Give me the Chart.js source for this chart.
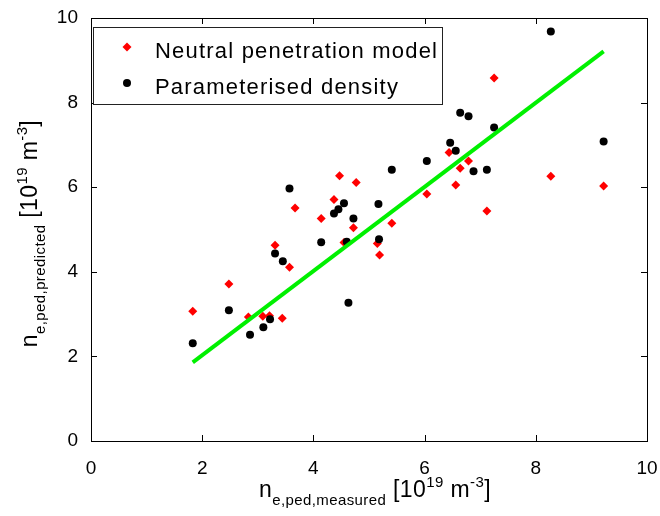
<!DOCTYPE html>
<html><head><meta charset="utf-8">
<script src="https://cdn.jsdelivr.net/npm/chart.js@4.4.0/dist/chart.umd.min.js"></script>
<style>html,body{margin:0;padding:0;background:#fff;}#wrap{position:relative;width:660px;height:516px;}</style>
</head><body><div id="wrap"><canvas id="c" width="660" height="516"></canvas></div>
<script>
// Data
const seriesNames = ['Neutral penetration model', 'Parameterised density'];
const neutralX = [1.83, 2.48, 2.83, 3.09, 3.21, 3.44, 3.31, 3.57, 3.67, 4.14, 4.37, 4.47, 4.77, 4.72, 4.55, 5.15, 5.19, 5.41, 6.04, 6.44, 6.56, 6.64, 6.79, 7.12, 7.25, 8.27, 9.22];
const neutralY = [3.07, 3.71, 2.93, 2.95, 2.96, 2.90, 4.63, 4.11, 5.51, 5.26, 5.71, 6.27, 6.11, 5.04, 4.69, 4.67, 4.40, 5.15, 5.84, 6.82, 6.05, 6.45, 6.62, 5.44, 8.58, 6.26, 6.03];
const paramX = [1.83, 2.48, 2.86, 3.10, 3.22, 3.31, 3.45, 3.57, 4.14, 4.37, 4.45, 4.55, 4.60, 4.63, 4.72, 5.17, 5.18, 5.41, 6.04, 6.46, 6.56, 6.64, 6.79, 6.88, 7.12, 7.25, 8.27, 9.22];
const paramY = [2.31, 3.09, 2.51, 2.69, 2.88, 4.43, 4.25, 5.97, 4.70, 5.38, 5.48, 5.62, 4.71, 3.27, 5.26, 5.60, 4.77, 6.41, 6.62, 7.05, 6.86, 7.76, 7.68, 6.38, 6.41, 7.41, 9.68, 7.08];
const fitX = [1.83, 9.22];
const fitY = [1.86, 9.21];
const xTickValues = [0, 2, 4, 6, 8, 10];
const yTickValues = [0, 2, 4, 6, 8, 10];
const innerTicks = [2, 4, 6, 8];

const FONT = '"Liberation Sans", Arial, Helvetica, sans-serif';
const toPts = (xs, ys) => xs.map((x, i) => ({x: x, y: ys[i]}));

function drawRich(ctx, parts, cx, cy) {
  let total = 0;
  parts.forEach(p => { ctx.font = p.size + 'px ' + FONT; p.w = ctx.measureText(p.t).width; total += p.w; });
  let x = cx - total / 2;
  ctx.textBaseline = 'alphabetic';
  ctx.textAlign = 'left';
  parts.forEach(p => { ctx.font = p.size + 'px ' + FONT; ctx.fillText(p.t, x, cy + p.dy); x += p.w; });
}

const decor = {
  id: 'decor',
  afterDraw(chart) {
    const ctx = chart.ctx, a = chart.chartArea;
    const xs = chart.scales.x, ys = chart.scales.y;
    ctx.save();
    ctx.strokeStyle = '#000';
    ctx.lineWidth = 1;
    ctx.strokeRect(Math.round(a.left) + 0.5, Math.round(a.top) + 0.5, Math.round(a.right - a.left), Math.round(a.bottom - a.top));
    ctx.beginPath();
    const tl = 6;
    innerTicks.forEach(v => {
      const px = Math.round(xs.getPixelForValue(v)) + 0.5;
      ctx.moveTo(px, a.bottom); ctx.lineTo(px, a.bottom - tl);
      ctx.moveTo(px, a.top); ctx.lineTo(px, a.top + tl);
      const py = Math.round(ys.getPixelForValue(v)) + 0.5;
      ctx.moveTo(a.left, py); ctx.lineTo(a.left + tl, py);
      ctx.moveTo(a.right, py); ctx.lineTo(a.right - tl, py);
    });
    ctx.stroke();

    // Legend box
    const lx = 93.5, ly = 27.5, lw = 349, lh = 77;
    ctx.fillStyle = '#fff';
    ctx.fillRect(lx, ly, lw, lh);
    ctx.strokeStyle = '#222';
    ctx.strokeRect(lx, ly, lw, lh);
    ctx.fillStyle = '#ff0000';
    ctx.beginPath();
    const mx = 127, my1 = 47, my2 = 83, r = 4.5;
    ctx.moveTo(mx, my1 - r); ctx.lineTo(mx + r, my1); ctx.lineTo(mx, my1 + r); ctx.lineTo(mx - r, my1); ctx.closePath();
    ctx.fill();
    ctx.fillStyle = '#000';
    ctx.beginPath(); ctx.arc(mx, my2, 4, 0, Math.PI * 2); ctx.fill();
    ctx.font = '22px ' + FONT;
    ctx.textAlign = 'left';
    ctx.textBaseline = 'alphabetic';
    try { ctx.letterSpacing = '1.2px'; } catch (e) {}
    ctx.fillText(seriesNames[0], 155, 58);
    ctx.fillText(seriesNames[1], 155, 94);
    try { ctx.letterSpacing = '0.4px'; } catch (e) {}

    // X axis title
    const xc = (a.left + a.right) / 2 + 6;
    drawRich(ctx, [
      {t: 'n', size: 23, dy: 0},
      {t: 'e,ped,measured', size: 15, dy: 8},
      {t: ' [10', size: 23, dy: 0},
      {t: '19', size: 15, dy: -10},
      {t: ' m', size: 23, dy: 0},
      {t: '-3', size: 15, dy: -10},
      {t: ']', size: 23, dy: 0}
    ], xc, 497);

    // Y axis title (rotated)
    ctx.save();
    ctx.translate(37, (a.top + a.bottom) / 2 + 4);
    ctx.rotate(-Math.PI / 2);
    drawRich(ctx, [
      {t: 'n', size: 23, dy: 0},
      {t: 'e,ped,predicted', size: 15, dy: 8},
      {t: ' [10', size: 23, dy: 0},
      {t: '19', size: 15, dy: -10},
      {t: ' m', size: 23, dy: 0},
      {t: '-3', size: 15, dy: -10},
      {t: ']', size: 23, dy: 0}
    ], 0, 0);
    ctx.restore();
    try { ctx.letterSpacing = '0px'; } catch (e) {}
    ctx.restore();
  }
};

new Chart(document.getElementById('c'), {
  type: 'scatter',
  data: {
    datasets: [
      {
        type: 'line', label: 'fit', data: toPts(fitX, fitY),
        borderColor: '#00f000', borderWidth: 4, pointRadius: 0, fill: false, order: 0
      },
      {
        label: seriesNames[1], data: toPts(paramX, paramY),
        pointStyle: 'circle', pointRadius: 4, pointBackgroundColor: '#000', pointBorderWidth: 0,
        borderColor: '#000', backgroundColor: '#000', order: 1
      },
      {
        label: seriesNames[0], data: toPts(neutralX, neutralY),
        pointStyle: 'rectRot', pointRadius: 4.5, pointBackgroundColor: '#ff0000', pointBorderWidth: 0,
        borderColor: '#ff0000', backgroundColor: '#ff0000', order: 2
      }
    ]
  },
  options: {
    responsive: false, animation: false, devicePixelRatio: 1,
    layout: {padding: 0},
    plugins: {legend: {display: false}, tooltip: {enabled: false}, title: {display: false}},
    scales: {
      x: {
        type: 'linear', min: 0, max: 10,
        afterBuildTicks: s => { s.ticks = xTickValues.map(v => ({value: v})); },
        afterFit: s => { s.height = 75; s.paddingLeft = 0; s.paddingRight = 13; },
        grid: {display: false}, border: {display: false},
        ticks: {color: '#000', font: {family: FONT, size: 19}, padding: 8, maxRotation: 0}
      },
      y: {
        type: 'linear', min: 0, max: 10,
        afterBuildTicks: s => { s.ticks = yTickValues.map(v => ({value: v})); },
        afterFit: s => { s.width = 91; s.paddingTop = 18; s.paddingBottom = 0; },
        grid: {display: false}, border: {display: false},
        ticks: {color: '#000', font: {family: FONT, size: 19}, padding: 5}
      }
    }
  },
  plugins: [decor]
});
</script></body></html>
